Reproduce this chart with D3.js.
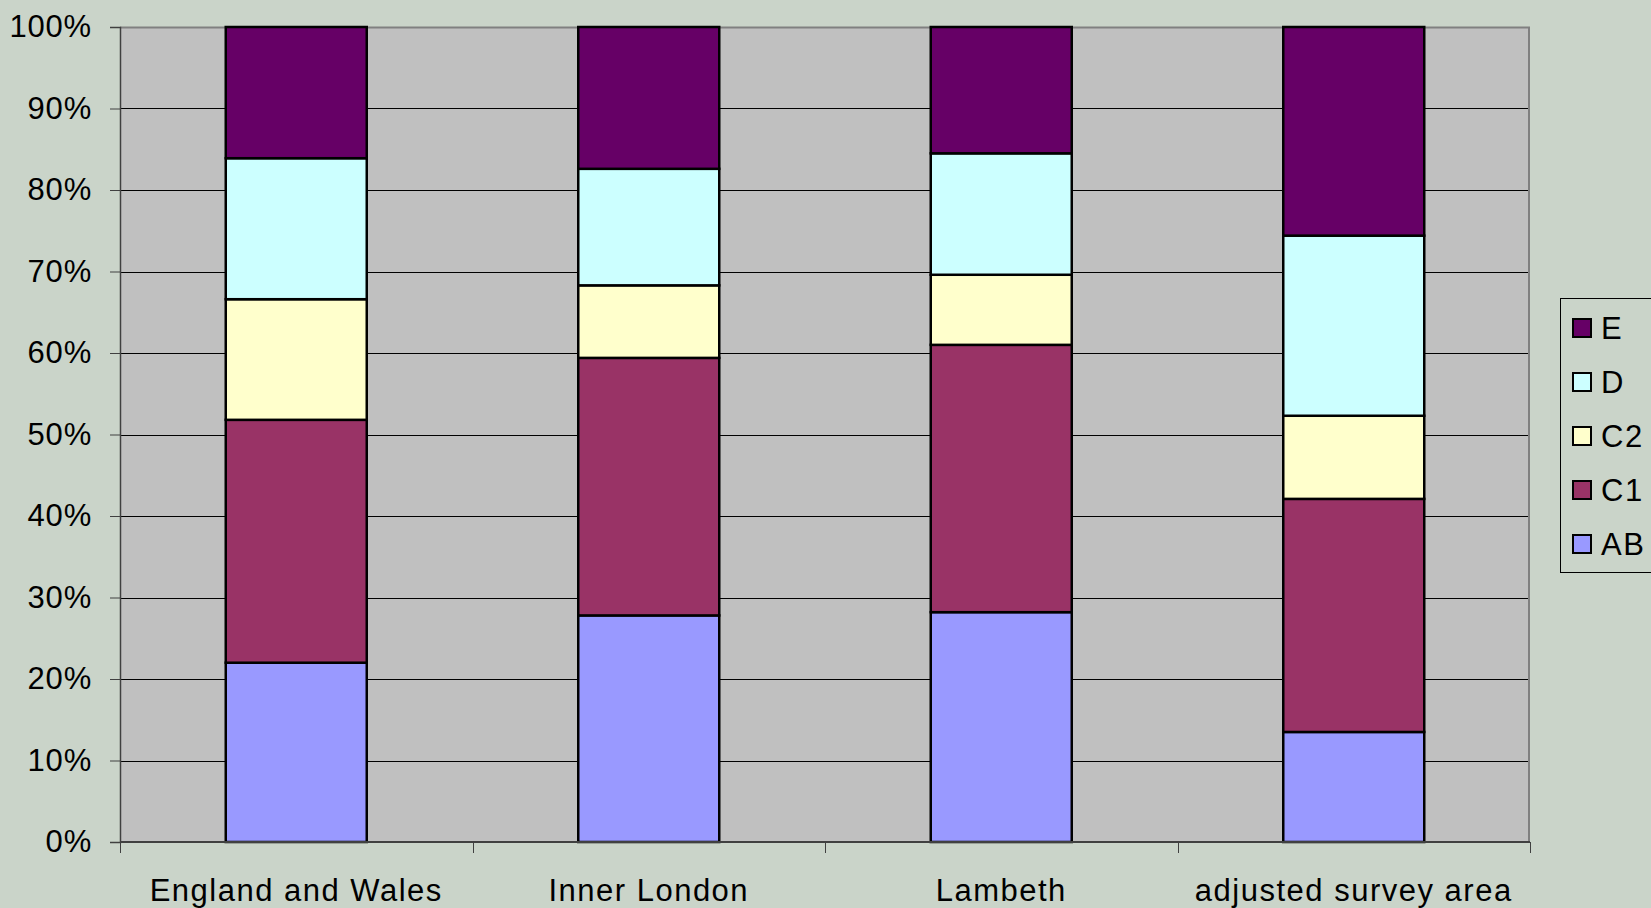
<!DOCTYPE html>
<html>
<head>
<meta charset="utf-8">
<script src="https://cdn.jsdelivr.net/npm/d3@7"></script>
<style>
  body { margin: 0; background: #cad4c9; }
  text { font-family: "Liberation Sans", Arial, sans-serif; }
</style>
</head>
<body>
<div id="chart"></div>
<script>
var svgWidth = 1651;
var svgHeight = 908;

var leftMargin = 120;
var rightMargin = 121;
var topMargin = 27;
var bottomMargin = 66;

var chartWidth = svgWidth - leftMargin - rightMargin;
var chartHeight = svgHeight - topMargin - bottomMargin;

// data, in percent
var areas = ['England and Wales', 'Inner London', 'Lambeth', 'adjusted survey area'];
var groups = ['AB', 'C1', 'C2', 'D', 'E'];
var abValues = [22.0, 27.8, 28.2, 13.5];
var c1Values = [29.8, 31.6, 32.8, 28.6];
var c2Values = [14.8, 8.9, 8.6, 10.2];
var dValues = [17.3, 14.3, 14.9, 22.1];
var eValues = [16.1, 17.4, 15.5, 25.6];
var yTicks = [0, 10, 20, 30, 40, 50, 60, 70, 80, 90, 100];

var colors = {AB: '#9999ff', C1: '#993366', C2: '#ffffcc', D: '#ccffff', E: '#660066'};

var rows = areas.map(function(area, i) {
    return {area: area, AB: abValues[i], C1: c1Values[i], C2: c2Values[i], D: dValues[i], E: eValues[i]};
});

var stacked = d3.stack().keys(groups)(rows);

var svg = d3.select('#chart')
    .append('svg')
    .attr('width', svgWidth)
    .attr('height', svgHeight);

svg.append('rect')
    .attr('width', svgWidth)
    .attr('height', svgHeight)
    .attr('fill', '#cad4c9');

var chart = svg.append('g')
    .attr('transform', `translate(${leftMargin}, ${topMargin})`);

var xScale = d3.scaleBand()
    .domain(areas)
    .range([0, chartWidth])
    .paddingInner(0.6)
    .paddingOuter(0.3);

var yScale = d3.scaleLinear()
    .domain([0, 100])
    .range([chartHeight, 0]);

// plot area
chart.append('rect')
    .attr('width', chartWidth)
    .attr('height', chartHeight)
    .attr('fill', '#c0c0c0');

// gridlines
chart.append('g')
    .selectAll('line')
    .data(yTicks.slice(1, -1))
    .enter()
    .append('line')
    .attr('x1', 0)
    .attr('x2', chartWidth)
    .attr('y1', d => Math.round(yScale(d)) + 0.5)
    .attr('y2', d => Math.round(yScale(d)) + 0.5)
    .attr('stroke', '#000')
    .attr('stroke-width', 1);

// top and right border of the plot area
chart.append('path')
    .attr('d', `M0,0.5H${chartWidth - 1}V${chartHeight}`)
    .attr('fill', 'none')
    .attr('stroke', '#808080')
    .attr('stroke-width', 2);

// bars
chart.append('g')
    .selectAll('g')
    .data(stacked)
    .enter()
    .append('g')
    .attr('fill', d => colors[d.key])
    .selectAll('rect')
    .data(d => d)
    .enter()
    .append('rect')
    .attr('x', d => xScale(d.data.area))
    .attr('y', d => yScale(d[1]))
    .attr('width', xScale.bandwidth())
    .attr('height', d => yScale(d[0]) - yScale(d[1]))
    .attr('stroke', '#000')
    .attr('stroke-width', 2.5);

// y axis
var yAxis = d3.axisLeft(yScale)
    .tickValues(yTicks)
    .tickSize(10)
    .tickPadding(18)
    .tickFormat(d => d + '%');

var yAxisG = chart.append('g').call(yAxis);
yAxisG.select('.domain').attr('stroke', '#404040').attr('stroke-width', 1.5);
yAxisG.selectAll('.tick line').attr('stroke', '#404040');
yAxisG.selectAll('.tick text')
    .attr('font-size', 31)
    .attr('letter-spacing', 0.8)
    .attr('fill', '#000')
    .attr('font-family', '"Liberation Sans", Arial, sans-serif');

// x axis: ticks sit between the categories
var boundaries = d3.range(areas.length + 1).map(i => i * chartWidth / areas.length);

var xAxisG = chart.append('g')
    .attr('transform', `translate(0, ${chartHeight})`);

xAxisG.append('line')
    .attr('x1', 0)
    .attr('x2', chartWidth)
    .attr('stroke', '#404040')
    .attr('stroke-width', 2);

xAxisG.selectAll('.tickmark')
    .data(boundaries)
    .enter()
    .append('line')
    .attr('class', 'tickmark')
    .attr('x1', d => Math.round(d) + 0.5)
    .attr('x2', d => Math.round(d) + 0.5)
    .attr('y1', 0)
    .attr('y2', 11)
    .attr('stroke', '#404040');

xAxisG.selectAll('.label')
    .data(areas)
    .enter()
    .append('text')
    .attr('class', 'label')
    .attr('x', d => xScale(d) + xScale.bandwidth() / 2)
    .attr('y', 59)
    .attr('text-anchor', 'middle')
    .attr('font-size', 31)
    .attr('letter-spacing', 1.5)
    .text(d => d);

// legend
var legendGroups = groups.slice().reverse();

var legend = svg.append('g')
    .attr('transform', 'translate(1560, 298)');

legend.append('rect')
    .attr('x', 0.5)
    .attr('y', 0.5)
    .attr('width', 120)
    .attr('height', 274)
    .attr('fill', '#cad4c9')
    .attr('stroke', '#000')
    .attr('stroke-width', 1);

legend.selectAll('.swatch')
    .data(legendGroups)
    .enter()
    .append('rect')
    .attr('class', 'swatch')
    .attr('x', 13)
    .attr('y', (d, i) => 21 + i * 54)
    .attr('width', 18)
    .attr('height', 18)
    .attr('fill', d => colors[d])
    .attr('stroke', '#000')
    .attr('stroke-width', 2);

legend.selectAll('.legend-label')
    .data(legendGroups)
    .enter()
    .append('text')
    .attr('class', 'legend-label')
    .attr('x', 41)
    .attr('y', (d, i) => 41 + i * 54)
    .attr('font-size', 31)
    .attr('letter-spacing', 1.5)
    .text(d => d);
</script>
</body>
</html>
